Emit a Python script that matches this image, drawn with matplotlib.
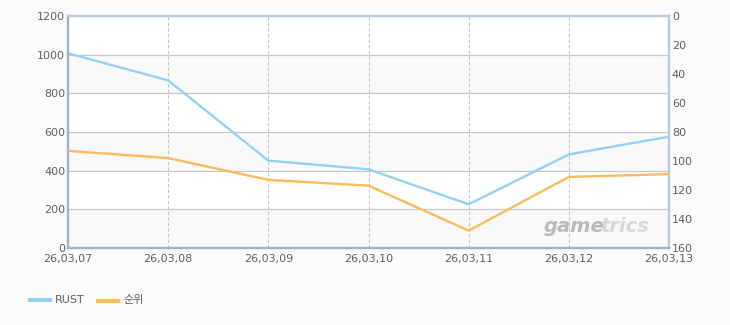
import matplotlib.pyplot as plt
import numpy as np

plt.rcParams['font.family'] = ['DejaVu Sans', 'Noto Sans CJK KR']

dates = ["26,03,07", "26,03,08", "26,03,09", "26,03,10", "26,03,11", "26,03,12", "26,03,13"]
rust = [1007, 867, 452, 407, 226, 484, 576]
rank = [93, 98, 113, 117, 148, 111, 109]

blue = "#93d2f2"
orange = "#fdbb5e"
txt = "#606060"

fig = plt.figure(figsize=(7.3, 3.25), dpi=100)
fig.patch.set_facecolor("#fbfbfb")
ax = fig.add_axes([68 / 730, 1 - 248 / 325, 601 / 730, 232 / 325])
ax.set_facecolor("white")

x = np.arange(len(dates))

# alternating bands
for lo in range(0, 1200, 400):
    ax.axhspan(lo, lo + 200, color="#f9f9f9", zorder=0, lw=0)
for yv in range(200, 1200, 200):
    ax.axhline(yv, color="#c8c8c8", lw=0.9, zorder=1)
for xv in x[1:-1]:
    ax.axvline(xv, color="#c4c4c4", lw=0.8, ls=(0, (3, 2)), zorder=1)

ax.plot(x, rust, color=blue, lw=1.7, zorder=3)
ax.set_xlim(0, len(dates) - 1)
ax.set_ylim(0, 1200)
ax.set_yticks(range(0, 1201, 200))
ax.set_xticks(x)
ax.set_xticklabels(dates)
ax.tick_params(length=0, labelsize=8, colors=txt)
ax.tick_params(axis="x", pad=4)
ax.tick_params(axis="y", pad=2)

ax2 = ax.twinx()
ax2.plot(x, rank, color=orange, lw=1.7, zorder=3)
ax2.set_ylim(160, 0)
ax2.set_yticks(range(0, 161, 20))
ax2.tick_params(length=0, labelsize=8, colors=txt, pad=2)

for a in (ax, ax2):
    for s in a.spines.values():
        s.set_linewidth(1.6)
    a.spines["left"].set_color("#a3b3c6")
    a.spines["bottom"].set_color("#a3b3c6")
    a.spines["top"].set_color("#bccbdb")
    a.spines["right"].set_color("#bccbdb")

# watermark
ax.text(0.893, 0.069, "game", transform=ax.transAxes, ha="right", va="baseline",
        fontsize=14, fontweight="bold", style="italic", color="#bababa", zorder=2)
ax.text(0.886, 0.069, "trics", transform=ax.transAxes, ha="left", va="baseline",
        fontsize=14, fontweight="bold", style="italic", color="#d8d8d8", zorder=2)

# legend
fig.add_artist(plt.Line2D([30 / 730, 50 / 730], [1 - 300 / 325] * 2, color=blue, lw=3))
fig.text(55 / 730, 1 - 300 / 325, "RUST", fontsize=8, color=txt, va="center")
fig.add_artist(plt.Line2D([98 / 730, 118 / 730], [1 - 301 / 325] * 2, color=orange, lw=3))
fig.text(123 / 730, 1 - 300 / 325, "순위", fontsize=8, color=txt, va="center",
         family=["Noto Sans CJK KR", "DejaVu Sans"])

fig.savefig("out.png", dpi=100, facecolor=fig.get_facecolor())
